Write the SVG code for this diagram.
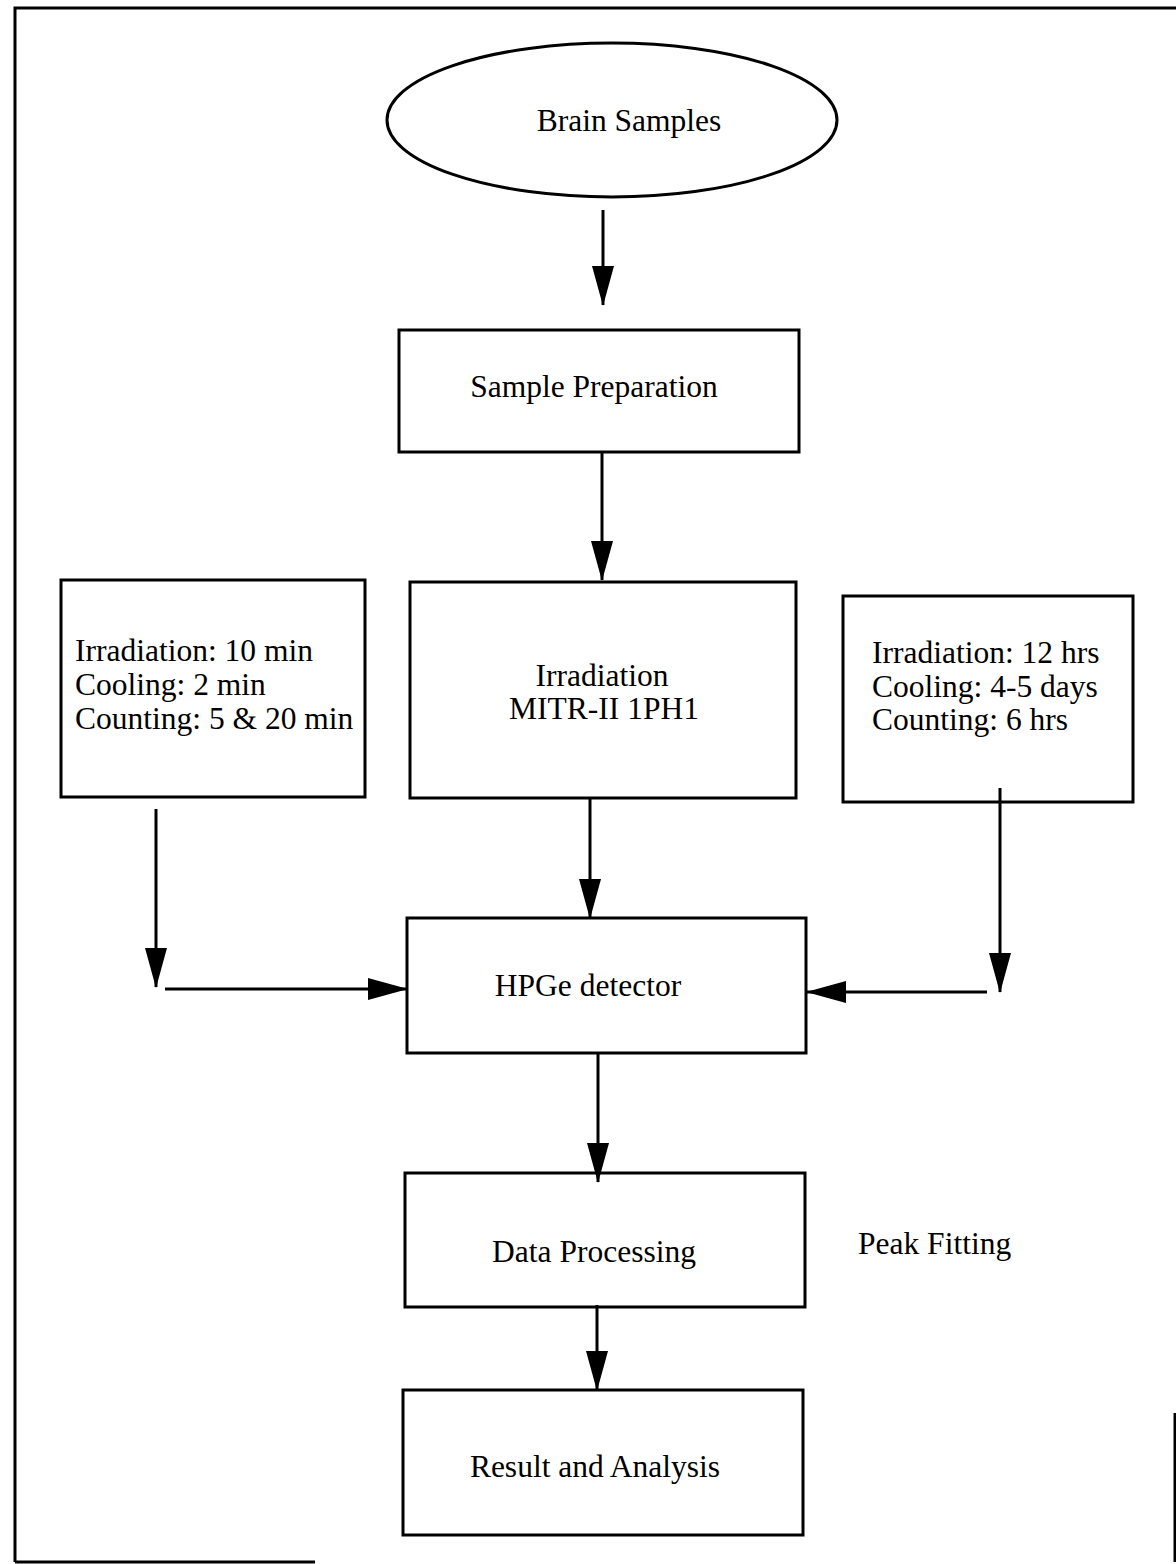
<svg xmlns="http://www.w3.org/2000/svg" width="1176" height="1564" viewBox="0 0 1176 1564">
<style>
.box{fill:#fff;stroke:#000;stroke-width:3}
.frame{fill:none;stroke:#000;stroke-width:3}
.conn{fill:none;stroke:#000;stroke-width:3}
text{font-family:"Liberation Serif","Times New Roman",serif;font-size:31.5px;fill:#000}
.c{text-anchor:middle}
</style>
<defs>
<marker id="ah" markerUnits="userSpaceOnUse" markerWidth="40" markerHeight="22" refX="39" refY="11" orient="auto" viewBox="0 0 40 22">
<path d="M0,0 L40,11 L0,22 z" fill="#000"/>
</marker>
</defs>
<rect width="1176" height="1564" fill="#fff"/>
<g id="frame">
<path class="frame" d="M15,1562 L15,8 L1176,8"/>
<path class="frame" d="M1175,1413 L1175,1562"/>
<path class="frame" d="M15,1562 L315,1562"/>
</g>
<g id="brain-samples">
<ellipse class="box" cx="612" cy="120" rx="225" ry="77"/>
<text class="c" x="629" y="131">Brain Samples</text>
</g>
<g id="sample-preparation">
<rect class="box" x="399" y="330" width="400" height="122"/>
<text class="c" x="594" y="397">Sample Preparation</text>
</g>
<g id="irradiation">
<rect class="box" x="410" y="582" width="386" height="216"/>
<text class="c" x="602" y="686">Irradiation</text>
<text class="c" x="604" y="719">MITR-II 1PH1</text>
</g>
<g id="short-irradiation">
<rect class="box" x="61" y="580" width="304" height="217"/>
<text x="75" y="661">Irradiation: 10 min</text>
<text x="75" y="695">Cooling: 2 min</text>
<text x="75" y="729">Counting: 5 &amp; 20 min</text>
</g>
<g id="long-irradiation">
<rect class="box" x="843" y="596" width="290" height="206"/>
<text x="872" y="663">Irradiation: 12 hrs</text>
<text x="872" y="697">Cooling: 4-5 days</text>
<text x="872" y="730">Counting: 6 hrs</text>
</g>
<g id="hpge-detector">
<rect class="box" x="407" y="918" width="399" height="135"/>
<text class="c" x="588" y="996">HPGe detector</text>
</g>
<g id="data-processing">
<rect class="box" x="405" y="1173" width="400" height="134"/>
<text class="c" x="594" y="1262">Data Processing</text>
</g>
<g id="peak-fitting">
<text x="858" y="1254">Peak Fitting</text>
</g>
<g id="result-analysis">
<rect class="box" x="403" y="1390" width="400" height="145"/>
<text class="c" x="595" y="1477">Result and Analysis</text>
</g>
<g id="connectors">
<line class="conn" x1="603" y1="210" x2="603" y2="305" marker-end="url(#ah)"/>
<line class="conn" x1="602" y1="452" x2="602" y2="580" marker-end="url(#ah)"/>
<line class="conn" x1="590" y1="798" x2="590" y2="918" marker-end="url(#ah)"/>
<line class="conn" x1="156" y1="809" x2="156" y2="987" marker-end="url(#ah)"/>
<line class="conn" x1="165" y1="989" x2="407" y2="989" marker-end="url(#ah)"/>
<line class="conn" x1="1000" y1="788" x2="1000" y2="992" marker-end="url(#ah)"/>
<line class="conn" x1="987" y1="992" x2="807" y2="992" marker-end="url(#ah)"/>
<line class="conn" x1="598" y1="1053" x2="598" y2="1182" marker-end="url(#ah)"/>
<line class="conn" x1="597" y1="1305" x2="597" y2="1390" marker-end="url(#ah)"/>
</g>
</svg>
